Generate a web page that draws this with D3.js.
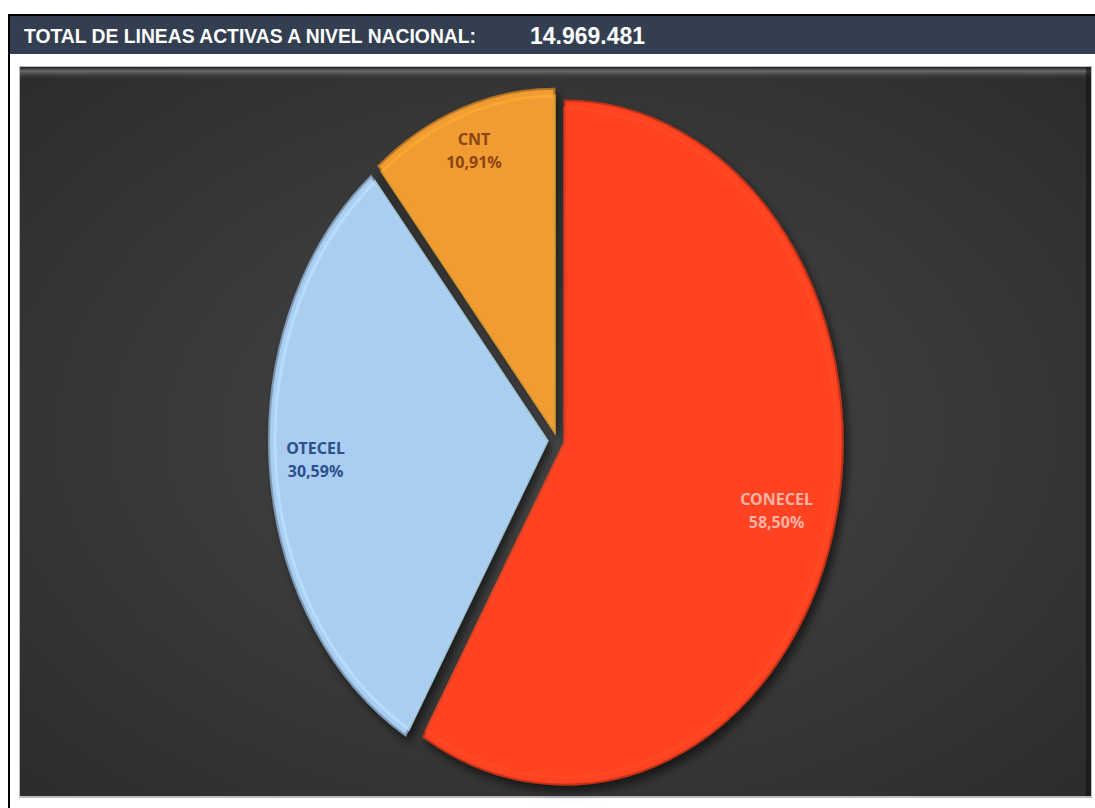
<!DOCTYPE html>
<html>
<head>
<meta charset="utf-8">
<script src="https://cdn.jsdelivr.net/npm/d3@7"></script>
<style>
  html, body { margin: 0; padding: 0; background: #ffffff; }
  svg { display: block; }
</style>
</head>
<body>
<svg id="chart" width="1095" height="808"></svg>
<script>
// ---- data ----
const titleText = "TOTAL DE LINEAS ACTIVAS A NIVEL NACIONAL:";
const totalText = "14.969.481";
const operators = ["CONECEL", "OTECEL", "CNT"];
const shares = [58.50, 30.59, 10.91];
const shareLabels = ["58,50%", "30,59%", "10,91%"];
const sliceColors = ["#ff4321", "#a9cef2", "#f09c30"];
const labelColors = ["#ffb3a4", "#2e4f8c", "#8a4512"];

const W = 1095, H = 808;
const svg = d3.select("#chart");
const defs = svg.append("defs");

const bg = defs.append("radialGradient").attr("id", "bgGrad")
  .attr("cx", "50%").attr("cy", "50%").attr("r", "70%");
bg.append("stop").attr("offset", "0%").attr("stop-color", "#474747");
bg.append("stop").attr("offset", "100%").attr("stop-color", "#2c2c2c");

const topShine = defs.append("linearGradient").attr("id", "topShine")
  .attr("x1", 0).attr("y1", 0).attr("x2", 0).attr("y2", 1);
topShine.append("stop").attr("offset", "0%").attr("stop-color", "#1e1e1e");
topShine.append("stop").attr("offset", "35%").attr("stop-color", "#7a7a7a");
topShine.append("stop").attr("offset", "100%").attr("stop-color", "#3a3a3a").attr("stop-opacity", 0);

const shadow = defs.append("filter").attr("id", "shadow")
  .attr("x", "-20%").attr("y", "-20%").attr("width", "140%").attr("height", "140%");
shadow.append("feDropShadow").attr("dx", 4).attr("dy", 5).attr("stdDeviation", 4)
  .attr("flood-color", "#000").attr("flood-opacity", 0.55);

// outer frame
svg.append("rect").attr("x", 8).attr("y", 14).attr("width", 2).attr("height", H - 14).attr("fill", "#000");
svg.append("rect").attr("x", 8).attr("y", 14).attr("width", W - 8).attr("height", 2).attr("fill", "#000");
svg.append("rect").attr("x", 10).attr("y", 16).attr("width", W - 10).attr("height", 38).attr("fill", "#333e50");

svg.append("text").attr("x", 24).attr("y", 43)
  .attr("font-family", "'Liberation Sans Narrow', 'Arial Narrow', 'Liberation Sans', Arial, sans-serif")
  .attr("font-weight", "bold").attr("font-size", 21).attr("fill", "#ffffff")
  .attr("textLength", 452).attr("lengthAdjust", "spacingAndGlyphs")
  .text(titleText);
svg.append("text").attr("x", 530).attr("y", 44)
  .attr("font-family", "'Liberation Sans Narrow', 'Arial Narrow', 'Liberation Sans', Arial, sans-serif")
  .attr("font-weight", "bold").attr("font-size", 24).attr("fill", "#ffffff")
  .attr("textLength", 115).attr("lengthAdjust", "spacingAndGlyphs")
  .text(totalText);

// chart area
const ax = 19, ay = 66, aw = 1073, ah = 732;
svg.append("rect").attr("x", ax).attr("y", ay).attr("width", aw).attr("height", ah)
  .attr("fill", "#bdbdbd");
svg.append("rect").attr("x", ax + 1).attr("y", ay + 1).attr("width", aw - 2).attr("height", ah - 3)
  .attr("fill", "url(#bgGrad)");
svg.append("rect").attr("x", ax + 1).attr("y", ay + 1).attr("width", aw - 2).attr("height", 12)
  .attr("fill", "url(#topShine)").attr("opacity", 0.8);
svg.append("rect").attr("x", ax + aw - 6).attr("y", ay + 1).attr("width", 5).attr("height", ah - 3)
  .attr("fill", "#111").attr("opacity", 0.6);

// pie
const cx = 557, cy = 440, rx = 278, ry = 342, k = ry / rx;
const explode = [8, 10, 8];
const pie = d3.pie().sort(null).value(d => d.v).startAngle(0).endAngle(2 * Math.PI);
const data = operators.map((n, i) => ({ n, v: shares[i], lab: shareLabels[i], c: sliceColors[i], lc: labelColors[i] }));
const arcs = pie(data);
const arc = d3.arc().innerRadius(0).outerRadius(rx);
const innerArc = d3.arc().innerRadius(0).outerRadius(rx - 6);
const labelR = [0.79, 0.835, 0.86];

const slices = svg.append("g");
arcs.forEach((a, i) => {
  const mid = (a.startAngle + a.endAngle) / 2;
  const dx = Math.sin(mid) * explode[i], dy = -Math.cos(mid) * explode[i] * k;
  const g = slices.append("g")
    .attr("transform", `translate(${cx + dx},${cy + dy}) scale(1,${k})`)
    .attr("filter", "url(#shadow)");
  const base = d3.color(a.data.c);
  g.append("path").attr("d", arc(a)).attr("fill", base.darker(0.6).formatHex());
  g.append("path").attr("d", arc(a)).attr("fill", a.data.c)
    .attr("stroke", base.darker(0.8).formatHex()).attr("stroke-width", 2)
    .attr("vector-effect", "non-scaling-stroke");
  g.append("path").attr("d", innerArc(a)).attr("fill", "none")
    .attr("stroke", base.brighter(0.35).formatHex()).attr("stroke-width", 3).attr("stroke-opacity", 0.6)
    .attr("vector-effect", "non-scaling-stroke");

  const lr = labelR[i] * rx;
  const lx = cx + dx + Math.sin(mid) * lr;
  const ly = cy + dy - Math.cos(mid) * lr * k;
  const t = svg.append("text").attr("text-anchor", "middle")
    .attr("font-family", "'Noto Sans', 'DejaVu Sans', sans-serif")
    .attr("font-weight", "bold").attr("font-size", 16).attr("fill", a.data.lc);
  t.append("tspan").attr("x", lx).attr("y", ly - 9).text(a.data.n);
  t.append("tspan").attr("x", lx).attr("y", ly + 14).text(a.data.lab);
});
</script>
</body>
</html>
